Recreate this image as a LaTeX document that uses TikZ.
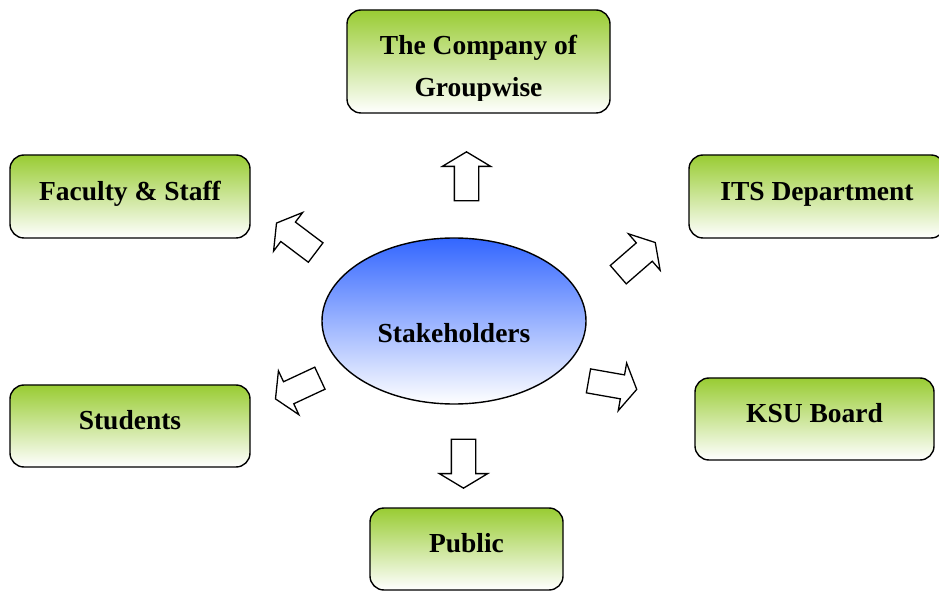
\documentclass[tikz,border=0pt]{standalone}
\usepackage{fontspec}
\setmainfont{Liberation Serif}
\usepackage{tikz}
\usetikzlibrary{shapes.geometric, shapes.arrows}
\definecolor{SHgreen}{RGB}{153, 204, 51}
\definecolor{SHblue}{RGB}{51, 102, 255}

\begin{document}
\begin{tikzpicture}[
    x=1pt, y=1pt,
    font=\fontsize{27.5}{42}\selectfont\bfseries,
    groupbox/.style={
        draw=black,
        line width=1.4pt,
        rounded corners=14pt,
        top color=SHgreen,
        bottom color=white,
        align=center,
        inner sep=0pt,
        text height=20pt,
        text depth=12.5pt,
        minimum width=240pt,
        minimum height=83pt
    },
    hub/.style={
        ellipse,
        draw=black,
        line width=1.4pt,
        top color=SHblue,
        bottom color=white,
        inner sep=0pt,
        text height=44pt,
        text depth=0pt,
        minimum width=264pt,
        minimum height=166pt
    },
    blockarrow/.style={
        single arrow,
        draw=black,
        fill=white,
        line width=1.3pt,
        inner xsep=0pt,
        inner ysep=11.5pt,
        minimum height=49pt,
        single arrow head extend=12pt,
        single arrow tip angle=118
    }
]
\useasboundingbox (0,0) rectangle (939,592);

\node[hub] (stake) at (454,271) {Stakeholders};

\node[groupbox, minimum width=263pt, minimum height=103pt] (company) at (478.5,530.5) {};
\begin{scope}
    \clip (company.north west) rectangle ([yshift=13pt]company.south east);
    \node[align=center, text height=71pt, text depth=0pt, inner sep=0pt] (company_txt)
        at (company.center) {The Company of\\Groupwise};
\end{scope}

\node[groupbox] (faculty) at (130,395.5) {Faculty \& Staff};
\node[groupbox, minimum width=256pt] (its) at (817,395.5) {ITS Department};
\node[groupbox, minimum height=82pt] (students) at (130,166) {Students};
\node[groupbox, minimum width=239pt, minimum height=82pt] (ksu) at (814.5,173) {KSU Board};
\node[groupbox, minimum width=193pt, minimum height=82pt] (public) at (466.5,43) {Public};

\node[blockarrow, rotate=90] (to_company) at (466.5,412) {};
\node[blockarrow, rotate=143] (to_faculty) at (299,352) {};
\node[blockarrow, rotate=41] (to_its) at (634,331) {};
\node[blockarrow, rotate=205] (to_students) at (301,205) {};
\node[blockarrow, rotate=-10] (to_ksu) at (609,207.5) {};
\node[blockarrow, rotate=-90] (to_public) at (463.5,132) {};

\end{tikzpicture}
\end{document}
